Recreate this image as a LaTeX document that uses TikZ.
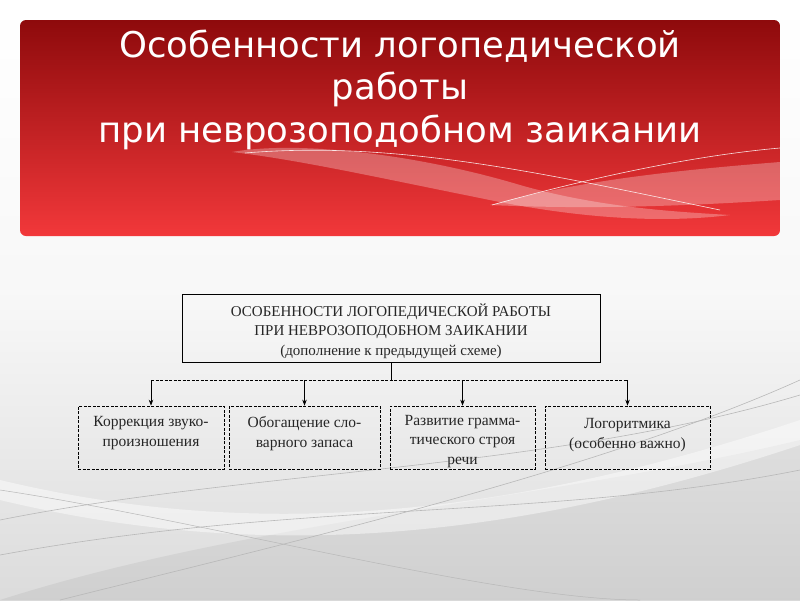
\documentclass[tikz,border=0pt]{standalone}
\usepackage{fontspec}
\setmainfont{Liberation Serif}
\newfontfamily\titlefont{DejaVu Sans}
\usetikzlibrary{arrows.meta}
\definecolor{bandtop}{HTML}{8E0A0C}
\definecolor{bandbot}{HTML}{F2383A}
\definecolor{swoosh}{HTML}{B8B8B8}
\newcommand\mvtext[2]{\raisebox{#1}[\height][\depth]{\begin{tabular}{@{}c@{}}#2\end{tabular}}}
\tikzset{
  box/.style={draw=black, line width=0.7pt, align=center, inner sep=2pt,
    font=\fontsize{15}{19.5}\selectfont, text=black!85},
  dbox/.style={box, dashed, dash pattern=on 3pt off 1.5pt, font=\fontsize{15.5}{20}\selectfont},
  arr/.style={draw=black, line width=0.7pt, -{Stealth[length=6pt,width=4.5pt]}},
  hline/.style={draw=black, line width=0.7pt, dash pattern=on 3pt off 1.5pt},
  title/.style={text=white, align=center, font=\titlefont\fontsize{35.5}{42.5}\selectfont},
  wave/.style={fill=white, opacity=0.28},
  thin/.style={draw=white, line width=0.6pt, opacity=0.85}
}
\begin{document}
\begin{tikzpicture}[x=1pt,y=-1pt]
\useasboundingbox (0,0) rectangle (800,600);
% background
\shade[top color=white, bottom color=black!14, middle color=black!3] (0,0) rectangle (800,600);
% gray swooshes
\fill[black, opacity=0.05] (0,600) .. controls (250,520) and (550,500) .. (800,440) -- (800,600) -- cycle;
\fill[white, opacity=0.45] (0,480) .. controls (250,540) and (500,520) .. (800,420) -- (800,445) .. controls (500,545) and (250,560) .. (0,500) -- cycle;
\draw[swoosh, line width=0.6pt] (0,520) .. controls (250,470) and (550,470) .. (800,395);
\draw[swoosh, line width=0.6pt] (0,555) .. controls (300,500) and (550,520) .. (800,470);
\draw[swoosh, line width=0.6pt] (60,600) .. controls (300,540) and (600,470) .. (800,380);
\draw[swoosh, line width=0.5pt] (0,490) .. controls (200,520) and (500,600) .. (640,600);
% red banner
\shade[top color=bandtop, bottom color=bandbot, rounded corners=6pt] (20,20) rectangle (780,236);
\begin{scope}
\clip[rounded corners=6pt] (20,20) rectangle (780,236);
\fill[wave] (232,152) .. controls (300,140) and (420,155) .. (520,185) .. controls (600,208) and (680,212) .. (730,215) .. controls (650,225) and (560,215) .. (480,198) .. controls (380,178) and (300,160) .. (232,152) -- cycle;
\fill[wave] (490,205) .. controls (580,180) and (680,170) .. (780,162) -- (780,200) .. controls (700,205) and (600,210) .. (490,205) -- cycle;
\draw[thin] (245,153) .. controls (400,140) and (550,175) .. (720,210);
\draw[thin] (492,205) .. controls (600,175) and (700,155) .. (780,148);
\end{scope}
\node[title] (t) at (400,89.5) {Особенности логопедической\\работы\\при неврозоподобном заикании};
% diagram
\node[box, minimum width=418pt, minimum height=68pt] (top) at (391,328)
  {\mvtext{-4pt}{ОСОБЕННОСТИ ЛОГОПЕДИЧЕСКОЙ РАБОТЫ\\ПРИ НЕВРОЗОПОДОБНОМ ЗАИКАНИИ\\(дополнение к предыдущей схеме)}};
\node[dbox, minimum width=146pt, minimum height=63pt] (b1) at (151,437.5) {\mvtext{5pt}{Коррекция звуко-\\произношения}};
\node[dbox, minimum width=151pt, minimum height=63pt] (b2) at (304.5,437.5) {\mvtext{4pt}{Обогащение сло-\\варного запаса}};
\node[dbox, minimum width=145pt, minimum height=63pt, font=\fontsize{15.5}{19.5}\selectfont] (b3) at (462.5,437.5) {\mvtext{-3.5pt}{Развитие грамма-\\тического строя\\речи}};
\node[dbox, minimum width=165pt, minimum height=63pt] (b4) at (627.5,437.5) {\mvtext{3pt}{Логоритмика\\(особенно важно)}};
\coordinate (j) at (391,380);
\draw[line width=0.7pt] (top.south) -- (j);
\draw[hline] (b1.north |- j) -- (b4.north |- j);
\draw[arr] (b1.north |- j) -- (b1.north);
\draw[arr] (b2.north |- j) -- (b2.north);
\draw[arr] (b3.north |- j) -- (b3.north);
\draw[arr] (b4.north |- j) -- (b4.north);
\end{tikzpicture}
\end{document}
